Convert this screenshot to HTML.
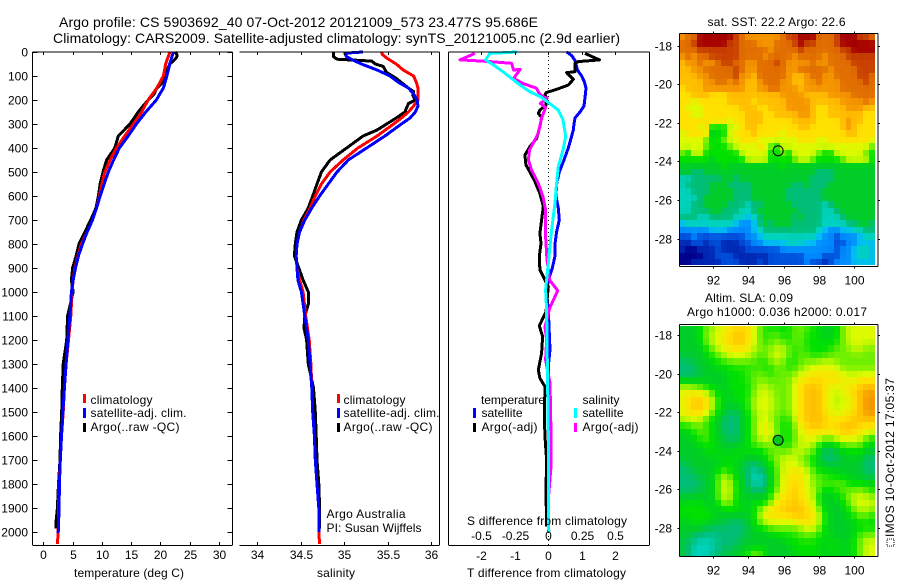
<!DOCTYPE html>
<html>
<head>
<meta charset="utf-8">
<title>Argo profile chart</title>
<style>
html,body{margin:0;padding:0;background:#fff;}
svg{display:block;font-family:"Liberation Sans",sans-serif;font-size:12px;fill:#000;}
.ln{stroke:#000;stroke-width:1;fill:none;shape-rendering:crispEdges;}
.crv{fill:none;stroke-width:3;stroke-linejoin:round;stroke-linecap:butt;shape-rendering:crispEdges;}
text{fill:#000;}
</style>
</head>
<body>
<svg id="chart" xmlns="http://www.w3.org/2000/svg" width="900" height="580" viewBox="0 0 900 580">
  <rect x="0" y="0" width="900" height="580" fill="#fff"/>
  <text x="59" y="27" font-size="14" textLength="479">Argo profile: CS 5903692_40 07-Oct-2012 20121009_573 23.477S 95.686E</text>
  <text x="53" y="43" font-size="14" textLength="567">Climatology: CARS2009. Satellite-adjusted climatology: synTS_20121005.nc (2.9d earlier)</text>

  <g id="layer-maps"></g>
  <g id="layer-zero"></g>
  <g id="layer-curves"></g>
  <g id="layer-axes"></g>

  <text x="74" y="577" textLength="110">temperature (deg C)</text>
  <text x="317" y="577" textLength="38">salinity</text>
  <text x="467" y="577" textLength="159">T difference from climatology</text>
  <text x="467" y="525" textLength="160">S difference from climatology</text>

  <g>
    <rect x="83" y="394" width="3" height="9" fill="#f00"/>
    <text x="90.5" y="404" textLength="62">climatology</text>
    <rect x="83" y="408" width="3" height="10" fill="#00f"/>
    <text x="90.5" y="417" textLength="96">satellite-adj. clim.</text>
    <rect x="83" y="423" width="3" height="9" fill="#000"/>
    <text x="90.5" y="431" textLength="89">Argo(..raw -QC)</text>
  </g>
  <g>
    <rect x="337" y="394" width="3" height="9" fill="#f00"/>
    <text x="343.5" y="404" textLength="62">climatology</text>
    <rect x="337" y="408" width="3" height="10" fill="#00f"/>
    <text x="343.5" y="417" textLength="96">satellite-adj. clim.</text>
    <rect x="337" y="423" width="3" height="9" fill="#000"/>
    <text x="343.5" y="431" textLength="89">Argo(..raw -QC)</text>
    <text x="326.5" y="518" textLength="79">Argo Australia</text>
    <text x="326.5" y="532" textLength="95">PI: Susan Wijffels</text>
  </g>
  <g>
    <text x="481" y="404" textLength="64">temperature</text>
    <rect x="473" y="408" width="3" height="10" fill="#00f"/>
    <text x="481.5" y="417" textLength="41">satellite</text>
    <rect x="473" y="423" width="3" height="9" fill="#000"/>
    <text x="481.5" y="431" textLength="56">Argo(-adj)</text>
    <text x="582.5" y="404" textLength="37">salinity</text>
    <rect x="574" y="408" width="3" height="10" fill="#0ff"/>
    <text x="582.5" y="417" textLength="41">satellite</text>
    <rect x="574" y="423" width="3" height="9" fill="#f0f"/>
    <text x="582.5" y="431" textLength="56">Argo(-adj)</text>
  </g>

  <text x="707.5" y="26" textLength="138">sat. SST: 22.2 Argo: 22.6</text>
  <text x="705" y="302" textLength="88">Altim. SLA: 0.09</text>
  <text x="687" y="316" textLength="180">Argo h1000: 0.036 h2000: 0.017</text>

  <rect x="887" y="539" width="7" height="7" fill="none" stroke="#000" stroke-dasharray="1 1" shape-rendering="crispEdges"/>
  <text transform="translate(894,537) rotate(-90)" textLength="159">IMOS 10-Oct-2012 17:05:37</text>
</svg>

<script>
// ---------- data ----------
const depthTicks = [0,100,200,300,400,500,600,700,800,900,1000,1100,1200,1300,1400,1500,1600,1700,1800,1900,2000];
const temperatureTicks = [0,5,10,15,20,25,30];
const salinityTicks = [34,34.5,35,35.5,36];
const salinityTickLabels = ['34','34.5','35','35.5','36'];
const tDiffTicks = [-2,-1,0,1,2];
const sDiffTicks = [-0.5,-0.25,0,0.25,0.5];
const sDiffTickLabels = ['-0.5','-0.25','0','0.25','0.5'];
const lonTicks = [92,94,96,98,100];
const latTicks = [-18,-20,-22,-24,-26,-28];

const climDepth = [0,50,100,150,200,250,300,350,400,450,500,550,600,650,700,750,800,850,900,950,1000,1100,1200,1300,1400,1500,1600,1700,1800,1900,2000,2050];
const climTemp = [21.6,20.9,20.5,19.4,17.9,16.8,15.4,13.9,12.5,11.4,10.5,10,9.6,9.1,8.4,7.5,6.5,5.9,5.4,5.1,4.9,4.7,4.3,3.9,3.6,3.4,3.1,2.9,2.7,2.6,2.55,2.4];
const satTempDepth = [0,50,100,150,200,250,300,350,400,450,500,550,600,650,700,750,800,850,900,950,1000,1100,1200,1300,1400,1500,1600,1700,1800,1900,2005];
const satTemp = [22.2,21.6,21.1,20.5,19.3,17.5,15.9,14.5,13,12,11.1,10.4,9.7,9.1,8.4,7.5,6.7,6,5.5,5.1,4.8,4.55,4.2,3.9,3.6,3.35,3.1,2.9,2.75,2.7,2.55];
const argoTempDepth = [0,10,20,30,50,75,100,125,150,175,200,250,300,350,400,450,500,550,600,650,700,750,800,850,900,950,1000,1100,1200,1300,1400,1500,1600,1700,1800,1900,1950,1985];
const argoTemp = [22.5,22.8,22.8,22.5,21.6,21.1,20.8,20.5,19.4,18.9,17.9,16.2,14.8,12.8,12.2,10.8,10.2,9.7,9.4,9,8.1,7.1,6.1,5.6,5,4.8,5.1,4.15,4,3.4,3.25,3.15,2.95,2.85,2.6,2.4,2.2,2.2];

const climSalDepth = [0,10,25,50,75,100,125,150,175,200,225,250,275,300,350,400,450,500,550,600,650,700,750,800,850,900,950,1000,1100,1200,1300,1400,1500,1600,1700,1800,1900,2000,2050];
const climSal = [35.43,35.44,35.49,35.6,35.68,35.8,35.83,35.85,35.85,35.85,35.8,35.74,35.66,35.57,35.38,35.16,34.99,34.84,34.74,34.67,34.61,34.54,34.49,34.46,34.45,34.46,34.49,34.53,34.56,34.6,34.62,34.63,34.64,34.66,34.67,34.69,34.71,34.71,34.72];
const satSalDepth = [0,5,20,35,50,75,100,125,150,175,200,225,250,275,300,350,400,450,500,550,600,650,700,750,800,850,900,950,1000,1100,1200,1300,1400,1500,1600,1700,1800,1900,2000];
const satSal = [35.22,35.01,35.03,35.11,35.2,35.38,35.53,35.62,35.74,35.8,35.84,35.85,35.82,35.76,35.66,35.47,35.26,35.05,34.92,34.82,34.72,34.63,34.55,34.49,34.46,34.45,34.46,34.47,34.51,34.55,34.59,34.61,34.63,34.64,34.66,34.67,34.69,34.71,34.71];
const argoSalDepth = [0,20,30,38,50,60,85,110,150,165,180,200,215,250,275,300,325,350,400,450,500,550,600,650,700,750,800,850,900,950,1000,1050,1100,1150,1200,1300,1400,1500,1600,1700,1800,1900,1985];
const argoSal = [34.88,34.88,34.92,35.32,35.36,35.45,35.49,35.6,35.74,35.8,35.79,35.82,35.74,35.7,35.6,35.49,35.38,35.22,35.03,34.84,34.74,34.69,34.64,34.59,34.51,34.46,34.44,34.43,34.48,34.53,34.59,34.59,34.55,34.54,34.57,34.59,34.65,34.67,34.68,34.69,34.71,34.72,34.72];

const satTDiffDepth = [0,15,35,50,75,100,125,150,175,200,225,250,275,300,325,350,400,450,500,550,600,650,700,750,800,850,900,950,1000,1075,1172,1241,1310,1400,2000];
const satTDiff = [0.55,0.7,0.8,0.83,0.87,1,1.08,1.13,1.11,1.09,1.07,0.95,0.8,0.77,0.75,0.7,0.6,0.47,0.33,0.25,0.23,0.3,0.33,0.25,0.2,0.2,0.12,0,-0.05,0,0.03,0.05,0,0,0];
const argoTDiffDepth = [6,33,40,47,82,86,114,138,158,169,179,193,221,242,256,272,311,360,394,429,471,499,540,589,644,700,756,797,853,908,950,978,1082,1141,1186,1255,1325,1359,1394,1519,1603,1700,1825,1977];
const argoTDiff = [1.1,1.53,0.9,0.8,0.8,0.55,0.75,0.6,0.2,-0.07,-0.1,-0.05,-0.07,-0.25,-0.3,-0.2,-0.25,-0.35,-0.55,-0.7,-0.67,-0.55,-0.4,-0.25,-0.15,-0.2,-0.25,-0.22,-0.27,-0.25,-0.1,0,-0.07,-0.27,-0.17,-0.2,-0.3,-0.25,-0.1,-0.12,-0.1,-0.05,-0.07,-0.05];
const satSDiffDepth = [0,6,33,54,82,110,138,165,186,214,242,283,353,408,478,561,631,742,881,992,1075,1380,1590,1977,2000];
const satSDiff = [-0.2325,-0.4375,-0.47,-0.41,-0.34,-0.275,-0.21,-0.14,-0.06,0.01,0.075,0.11,0.13,0.11,0.075,0.06,0.05,0.025,0,-0.02,-0.0125,-0.005,0,0,0.005];
const argoSDiffDepth = [6,33,38,47,75,72,110,131,151,179,193,214,231,276,339,408,450,492,547,603,658,769,867,950,994,1068,1144,1200,1283,1380,1590,1727,1866,1977];
const argoSDiff = [-0.55,-0.66,-0.49,-0.275,-0.26,-0.21,-0.26,-0.19,-0.09,-0.06,-0.01,-0.06,-0.02,-0.05,-0.075,-0.14,-0.15,-0.125,-0.075,-0.04,-0.02,-0.02,-0.01,0.01,0.07,0.01,-0.025,-0.0125,-0.02,0.0125,0.02,0.02,0,0];

// colour-level grids (rows north to south)
const sstLevels = [
[13,14,14,16,16,16,16,16,16,15,14,13,13,13,13,13,13,14,15,15,16,16,16,14,14,14,15,16,16,16,15,15,14],
[14,14,15,16,16,16,16,16,15,15,14,14,14,13,13,13,14,14,14,15,16,15,15,14,14,14,15,16,16,16,16,16,16],
[14,14,14,15,15,15,15,15,15,15,14,14,14,14,14,13,14,14,14,14,15,14,14,14,14,14,14,15,15,16,16,16,16],
[13,14,13,14,14,15,15,15,15,15,14,14,14,14,13,14,14,14,14,13,14,14,14,14,13,14,14,14,15,15,15,15,15],
[12,13,13,14,13,13,14,15,15,14,14,13,13,14,14,14,15,14,13,13,13,13,14,13,13,14,14,14,14,15,15,15,15],
[12,12,13,13,14,14,14,14,14,15,14,13,13,14,14,14,14,14,13,13,14,14,14,14,14,13,14,14,14,14,15,15,15],
[12,12,12,13,13,14,14,14,14,15,13,13,12,14,14,14,14,14,13,12,12,13,14,14,13,13,14,14,14,14,15,15,14],
[12,12,12,12,13,13,14,14,13,14,13,12,12,13,14,14,14,13,13,12,12,13,13,14,13,13,13,14,14,14,14,15,14],
[11,12,12,12,13,13,13,13,13,13,13,12,12,13,13,14,14,13,13,13,12,13,13,13,13,13,13,14,14,14,14,14,14],
[11,11,12,12,12,11,11,11,12,12,12,12,12,12,12,12,12,13,13,13,13,12,12,12,12,13,13,13,13,14,14,14,14],
[11,11,10,11,11,11,11,11,12,12,12,12,11,12,12,12,12,12,13,13,13,13,12,12,12,12,12,13,13,13,13,14,13],
[11,10,10,10,11,11,11,11,11,11,12,12,12,11,11,12,12,12,13,13,13,13,12,11,11,12,12,12,13,13,13,12,12],
[11,11,10,10,11,11,11,11,11,11,11,12,12,12,11,11,12,12,12,12,13,13,12,11,11,12,12,12,12,12,12,11,11],
[11,11,11,11,11,11,11,11,10,11,11,12,12,12,11,11,11,11,11,12,12,12,12,11,11,11,11,12,13,12,12,11,11],
[11,11,11,10,11,8,8,8,10,10,11,12,12,11,11,11,11,11,11,11,12,12,11,11,11,11,11,12,13,12,11,11,11],
[10,11,11,11,11,7,8,8,10,11,11,11,12,11,11,11,11,10,11,11,11,11,11,11,11,11,11,11,12,12,11,11,11],
[10,10,10,10,9,8,8,9,10,10,11,11,11,10,10,10,10,10,10,10,11,11,11,10,10,11,11,11,11,11,11,11,10],
[10,10,10,10,9,8,8,8,9,10,10,10,10,11,10,9,8,10,10,10,10,10,10,10,10,10,10,10,10,10,10,10,9],
[9,8,10,10,8,8,8,8,8,8,10,10,10,10,10,8,8,9,8,10,10,10,10,9,8,8,10,10,10,10,10,9,8],
[8,8,8,8,8,7,8,8,8,8,8,10,10,10,10,8,8,8,8,9,10,10,9,8,8,8,8,9,10,10,10,10,8],
[7,7,7,7,7,7,7,8,7,7,7,7,7,7,7,7,7,8,7,7,7,7,7,7,7,7,7,7,7,7,7,7,7],
[7,7,6,6,7,7,7,7,7,7,7,7,7,7,7,7,7,7,7,7,7,7,7,6,6,6,7,7,7,7,7,7,7],
[5,5,6,6,6,6,6,7,7,6,7,7,7,7,7,7,7,7,7,7,7,7,6,6,6,6,7,7,7,7,7,7,7],
[5,6,6,6,6,7,7,7,6,6,6,6,7,7,7,7,7,7,7,6,6,7,6,6,6,7,7,7,7,7,7,7,7],
[5,5,6,6,6,7,7,7,7,6,6,6,7,7,7,7,7,7,6,6,6,6,6,6,7,7,7,7,7,7,7,7,7],
[5,5,5,6,7,7,7,7,7,6,6,6,7,7,7,7,7,7,6,6,6,6,6,6,7,7,7,7,7,7,7,7,7],
[5,5,6,6,7,7,7,7,6,6,6,5,6,6,7,7,7,7,7,6,6,6,6,6,5,6,7,7,7,7,7,7,7],
[5,5,6,6,6,7,7,6,6,6,5,5,6,7,7,7,7,7,7,7,6,6,6,6,5,5,6,7,7,7,7,7,7],
[6,6,6,5,5,6,6,6,6,5,5,4,5,6,7,7,7,7,7,6,7,6,6,6,5,5,5,6,7,7,7,7,7],
[4,5,5,5,5,5,5,5,5,4,3,3,4,6,7,6,7,7,7,6,6,6,6,6,5,5,5,5,6,6,7,7,6],
[3,3,3,3,3,4,4,4,3,3,3,3,4,5,6,6,6,6,6,6,6,6,6,5,4,3,3,4,4,5,5,6,6],
[2,2,3,2,2,2,2,2,2,2,2,3,3,4,5,5,5,5,5,5,5,5,5,4,3,3,2,3,3,3,4,5,5],
[1,1,2,2,1,2,2,1,1,1,2,2,3,3,4,4,4,4,5,5,5,4,4,3,3,3,2,2,3,3,4,4,4],
[1,0,0,1,1,1,2,1,1,1,1,2,2,2,2,2,2,3,3,3,3,3,3,3,3,3,2,3,3,4,5,5,4],
[0,0,0,0,1,1,2,2,2,1,1,1,1,1,1,2,2,2,2,2,2,3,3,3,2,2,2,3,3,4,5,5,4],
[0,0,1,1,1,1,1,2,2,2,1,1,1,2,1,2,2,2,2,2,2,3,2,2,1,2,3,3,3,4,4,4,4]
];
const slaLevels = [
[7,7,7,8,9,9,10,10,11,11,11,11,10,9,8,8,8,8,8,9,9,9,8,8,7,7,8,9,10,10,10,10,10],
[7,7,7,8,9,10,10,11,11,12,12,11,10,9,8,9,9,8,8,9,9,8,8,8,7,7,8,9,10,10,10,10,10],
[7,7,7,8,9,10,10,11,11,12,12,11,10,9,8,9,9,9,8,9,9,8,8,8,8,8,8,9,10,10,10,10,10],
[7,7,7,7,8,9,10,10,11,11,11,10,10,9,9,9,10,10,9,8,9,8,8,8,8,8,9,9,9,10,10,9,9],
[7,7,7,7,8,8,9,10,10,10,10,10,9,9,9,10,10,10,9,8,9,9,8,8,8,9,9,9,9,9,9,9,9],
[6,6,7,7,7,8,8,8,9,9,9,9,9,8,8,9,10,9,8,8,9,9,9,10,10,10,9,9,9,9,9,9,9],
[6,6,6,7,7,7,8,8,8,8,8,8,8,9,8,8,9,9,8,9,9,10,10,10,10,10,10,9,9,9,9,9,9],
[6,6,6,7,7,7,7,7,8,8,8,9,9,9,9,8,9,9,9,9,10,10,11,11,11,11,11,10,10,10,10,10,10],
[7,7,7,7,7,7,7,7,8,8,8,8,9,9,9,9,9,9,9,10,11,11,11,11,11,11,11,11,10,10,11,11,11],
[10,10,9,9,8,8,7,7,8,8,8,8,9,10,10,9,9,9,9,10,11,12,12,12,11,10,10,10,11,11,12,12,12],
[10,11,11,11,10,9,8,7,7,8,8,8,9,10,10,10,9,9,9,10,11,12,12,12,11,10,10,10,11,11,12,13,13],
[10,11,11,12,11,10,8,8,7,8,8,8,10,10,10,10,9,9,9,10,11,12,12,12,11,10,9,10,10,11,12,13,13],
[10,11,12,12,11,10,8,7,7,7,8,8,10,10,10,10,9,9,9,10,11,12,12,12,11,10,10,10,10,11,12,13,13],
[10,11,11,11,10,9,8,7,6,6,7,8,9,10,10,10,9,9,9,10,11,12,12,12,11,10,10,10,11,11,12,13,13],
[10,10,10,10,9,8,7,6,6,6,7,8,9,10,10,9,9,8,8,10,11,12,12,12,12,11,11,11,11,12,12,12,12],
[8,8,9,9,8,8,7,6,6,6,7,8,9,10,11,10,9,8,8,9,11,11,12,12,11,11,11,12,12,12,11,11,11],
[7,8,8,9,9,8,7,6,6,6,7,8,9,10,11,10,9,8,8,9,10,11,11,11,11,11,11,12,12,11,11,10,10],
[7,7,8,8,9,8,7,7,6,6,7,8,9,10,10,10,9,8,8,9,10,10,10,10,9,9,10,10,10,10,10,9,8],
[7,7,7,8,8,8,7,7,7,7,7,8,8,9,9,9,9,8,8,9,10,10,10,8,7,7,8,9,9,9,9,8,7],
[7,7,7,7,8,8,8,7,7,8,8,8,8,8,8,9,9,9,9,10,10,9,9,8,6,6,7,7,8,8,8,7,7],
[7,7,7,7,7,7,8,8,8,8,7,7,7,7,8,9,9,10,10,10,9,9,8,7,6,6,6,7,7,7,7,6,6],
[6,7,7,7,7,7,7,7,8,7,7,6,6,7,7,8,9,10,10,10,9,9,8,7,7,6,7,7,7,7,7,6,6],
[6,6,7,7,7,7,8,9,8,7,7,6,5,6,7,7,9,10,10,11,11,10,9,8,8,8,7,7,7,7,7,6,6],
[6,6,6,7,7,7,9,10,9,8,7,6,5,5,6,7,9,10,11,11,11,10,9,9,8,8,8,8,7,7,7,6,7],
[6,6,6,6,7,7,9,10,10,8,7,6,5,5,6,7,9,10,11,11,11,10,9,9,9,9,9,9,8,8,8,8,7],
[6,6,6,7,7,7,9,10,10,8,7,7,6,6,7,8,9,10,11,12,11,10,10,9,7,8,8,9,9,9,9,9,8],
[7,7,7,7,7,7,9,10,10,8,7,7,7,7,7,8,10,11,11,12,11,10,10,8,7,7,8,8,9,10,10,10,9],
[7,8,8,8,7,7,8,10,9,8,7,7,8,8,8,9,11,11,11,12,11,11,10,8,7,7,7,8,9,10,10,10,10],
[8,8,8,8,8,7,7,8,8,8,8,7,8,9,10,11,11,12,12,12,12,11,11,9,8,7,7,7,8,9,10,10,9],
[8,8,8,8,8,8,7,7,7,7,7,7,8,10,11,11,11,11,11,12,12,11,11,10,8,7,7,7,8,8,9,9,8],
[7,7,8,8,8,7,7,7,6,6,6,7,8,9,10,10,10,10,10,10,11,11,11,10,8,7,7,7,7,8,8,8,8],
[7,7,7,7,6,6,6,6,6,6,6,7,7,8,8,9,9,9,9,9,9,10,10,9,8,7,7,7,7,7,8,8,8],
[7,7,6,6,6,6,6,6,6,6,6,7,7,7,7,7,8,8,8,8,9,9,9,8,8,7,7,7,7,8,9,9,9],
[7,6,6,5,5,5,6,6,6,6,7,7,7,7,7,7,7,7,8,8,8,8,8,8,7,8,8,7,7,8,9,10,10],
[7,6,5,5,5,5,6,6,6,7,7,7,7,8,7,7,7,7,7,8,8,8,8,8,7,8,8,7,8,8,9,10,10],
[7,6,5,5,5,6,6,7,7,7,7,9,10,9,8,7,7,7,7,7,8,8,8,8,7,7,8,7,7,8,9,10,10]
];
const levelColours = [[0,0,140],[0,40,180],[0,80,220],[0,140,255],[0,190,240],[0,210,190],[0,190,120],[0,205,40],[0,225,0],[110,240,0],[220,250,0],[255,225,0],[255,190,0],[245,150,0],[225,110,0],[200,65,0],[165,0,0]];
const floatLon = [95.686];
const floatLat = [-23.477];

// ---------- helpers ----------
const NS = 'http://www.w3.org/2000/svg';
const yTop = 52, pxPer100m = 24, panelBottom = 545;
const depthToY = d => yTop + d * pxPer100m / 100;
const tempToX = t => 43.3 + t * 5.857;
const salToX = s => 257 + (s - 34) * 87;
const tDiffToX = v => 548.3 + v * 33.4;
const sDiffToX = v => 548.3 + v * 133.6;
const lonToX = lon => 713 + (lon - 92) * 17.67;
function mk(tag, parent, attrs, name) {
  const el = document.createElementNS(NS, tag);
  for (const k in attrs) el.setAttribute(k, attrs[k]);
  
  
  parent.appendChild(el);
  return el;
}
function line(parent, x1, y1, x2, y2, name) {
  return mk('line', parent, {x1: x1, y1: y1, x2: x2, y2: y2, class: 'ln'}, name);
}
function label(parent, x, y, str, anchor, name) {
  const t = mk('text', parent, {x: x, y: y, 'text-anchor': anchor}, name);
  t.textContent = str;
  return t;
}
function curve(parent, depths, values, toX, colour, name) {
  const pts = depths.map((d, i) => toX(values[i]).toFixed(1) + ',' + depthToY(d).toFixed(1)).join(' ');
  return mk('polyline', parent, {points: pts, class: 'crv', stroke: colour}, name);
}
// continuous colour lookup for a (possibly fractional) level
function colourFor(level) {
  const v = Math.max(0, Math.min(levelColours.length - 1, level));
  const i = Math.min(levelColours.length - 2, Math.floor(v));
  const f = v - i;
  const a = levelColours[i], b = levelColours[i + 1];
  return 'rgb(' + [0, 1, 2].map(k => Math.round(a[k] + (b[k] - a[k]) * f)).join(',') + ')';
}
// the source maps are shaded; soften each cell toward its neighbours for display
function softened(grid, r, c, centre, edge, corner) {
  let sum = 0, w = 0;
  for (let dr = -1; dr <= 1; dr++) {
    for (let dc = -1; dc <= 1; dc++) {
      const row = grid[r + dr];
      if (!row || row[c + dc] === undefined) continue;
      const wt = (dr === 0 && dc === 0) ? centre : (dr === 0 || dc === 0) ? edge : corner;
      sum += row[c + dc] * wt;
      w += wt;
    }
  }
  return sum / w;
}

const axes = document.getElementById('layer-axes');
const curves = document.getElementById('layer-curves');
const zero = document.getElementById('layer-zero');
const maps = document.getElementById('layer-maps');

// ---------- temperature panel ----------
{
  const L = 32.5, R = 232.5;
  line(axes, L, yTop, L, panelBottom, 'temperature-panel-left-axis');
  line(axes, R, yTop, R, panelBottom, 'temperature-panel-right-axis');
  line(axes, L, yTop, R, yTop, 'temperature-panel-top-axis');
  line(axes, L, panelBottom + 0.5, R, panelBottom + 0.5, 'temperature-panel-bottom-axis');
  depthTicks.forEach(d => {
    const y = Math.round(depthToY(d)) + 0.5;
    line(axes, L, y, L + 5, y, 'depth-tick');
    line(axes, R - 5, y, R, y, 'depth-tick');
    label(axes, 28, y + 4, String(d), 'end', 'depth-tick-label');
  });
  temperatureTicks.forEach(t => {
    const x = Math.round(tempToX(t)) + 0.5;
    line(axes, x, yTop, x, yTop + 3, 'temperature-tick');
    line(axes, x, panelBottom - 3, x, panelBottom, 'temperature-tick');
    label(axes, x, 559, String(t), 'middle', 'temperature-tick-label');
  });
  curve(curves, argoTempDepth, argoTemp, tempToX, '#000', 'argo-temperature-line');
  curve(curves, climDepth, climTemp, tempToX, '#f00', 'climatology-temperature-line');
  curve(curves, satTempDepth, satTemp, tempToX, '#00f', 'satellite-temperature-line');
}

// ---------- salinity panel ----------
{
  const L = 239.5, R = 439.5;
  line(axes, R, yTop, R, panelBottom, 'salinity-panel-right-axis');
  line(axes, L, yTop, R, yTop, 'salinity-panel-top-axis');
  line(axes, L, panelBottom + 0.5, R, panelBottom + 0.5, 'salinity-panel-bottom-axis');
  salinityTicks.forEach((s, i) => {
    const x = Math.round(salToX(s)) + 0.5;
    line(axes, x, yTop, x, yTop + 3, 'salinity-tick');
    line(axes, x, panelBottom - 3, x, panelBottom, 'salinity-tick');
    label(axes, x, 559, salinityTickLabels[i], 'middle', 'salinity-tick-label');
  });
  curve(curves, argoSalDepth, argoSal, salToX, '#000', 'argo-salinity-line');
  curve(curves, climSalDepth, climSal, salToX, '#f00', 'climatology-salinity-line');
  curve(curves, satSalDepth, satSal, salToX, '#00f', 'satellite-salinity-line');
}

// ---------- difference panel ----------
{
  const L = 448.5, R = 649.5;
  line(axes, L, yTop, L, panelBottom, 'difference-panel-left-axis');
  line(axes, R, yTop, R, panelBottom, 'difference-panel-right-axis');
  line(axes, L, yTop, R, yTop, 'difference-panel-top-axis');
  line(axes, L, panelBottom + 0.5, R, panelBottom + 0.5, 'difference-panel-bottom-axis');
  tDiffTicks.forEach(v => {
    const x = Math.round(tDiffToX(v)) + 0.5;
    line(axes, x, yTop, x, yTop + 3, 't-difference-tick');
    label(axes, x, 560, String(v), 'middle', 't-difference-tick-label');
  });
  sDiffTicks.forEach((v, i) => {
    const x = Math.round(sDiffToX(v)) + 0.5;
    label(axes, x, 540, sDiffTickLabels[i], 'middle', 's-difference-tick-label');
  });
  const z = mk('line', zero, {x1: 548.5, y1: yTop, x2: 548.5, y2: panelBottom, stroke: '#000', 'stroke-dasharray': '1 3', 'shape-rendering': 'crispEdges'}, 'zero-difference-line');
  curve(curves, satTDiffDepth, satTDiff, tDiffToX, '#00f', 'satellite-t-difference-line');
  curve(curves, argoTDiffDepth, argoTDiff, tDiffToX, '#000', 'argo-t-difference-line');
  curve(curves, argoSDiffDepth, argoSDiff, sDiffToX, '#f0f', 'argo-s-difference-line');
  curve(curves, satSDiffDepth, satSDiff, sDiffToX, '#0ff', 'satellite-s-difference-line');
}

// ---------- maps ----------
function drawMap(grid, top, bottomAxis, topAxis, lat18Y, name, markerFill, centre, edge, corner) {
  const cw = 5.93, ch = 6.43, x0 = 679.5;
  const L = 679.5, R = 878;
  const g = mk('g', maps, {}, name);
  grid.forEach((row, r) => row.forEach((lv, c) => {
    const x = Math.round(x0 + c * cw), y = Math.round(top + r * ch);
    const x2 = Math.round(x0 + (c + 1) * cw), y2 = Math.round(top + (r + 1) * ch);
    const shade = colourFor(softened(grid, r, c, centre, edge, corner));
    mk('rect', g, {x: x, y: y, width: x2 - x, height: y2 - y, fill: shade, 'shape-rendering': 'crispEdges'}, 'map-cell');
  }));
  line(axes, L, topAxis, R, topAxis, name + '-top-axis');
  line(axes, L, bottomAxis, R, bottomAxis, name + '-bottom-axis');
  line(axes, L, topAxis, L, bottomAxis, name + '-left-axis');
  line(axes, R, topAxis, R, bottomAxis, name + '-right-axis');
  const latY = v => lat18Y + (-18 - v) * 19.3;
  latTicks.forEach(v => {
    const y = Math.round(latY(v)) + 0.5;
    line(axes, L - 2, y, L, y, 'latitude-tick');
    line(axes, R, y, R + 2, y, 'latitude-tick');
    label(axes, 672, y + 4, String(v), 'end', 'latitude-tick-label');
  });
  lonTicks.forEach(v => {
    const x = Math.round(lonToX(v)) + 0.5;
    line(axes, x, topAxis - 2, x, topAxis, 'longitude-tick');
    line(axes, x, bottomAxis, x, bottomAxis + 2, 'longitude-tick');
    label(axes, x, bottomAxis + 18, String(v), 'middle', 'longitude-tick-label');
  });
  floatLon.forEach((lon, i) => {
    mk('circle', axes, {cx: lonToX(lon), cy: latY(floatLat[i]) - 0.5, r: 5, fill: markerFill, stroke: '#000', 'stroke-width': 1}, 'argo-float-marker');
  });
}
drawMap(sstLevels, 34, 266.5, 33.5, 45.5, 'sst-map', 'none', 8, 1, 0);
drawMap(slaLevels, 326, 556.5, 324.5, 335, 'sla-map', '#00c81e', 4, 2, 1);
</script>
</body>
</html>
